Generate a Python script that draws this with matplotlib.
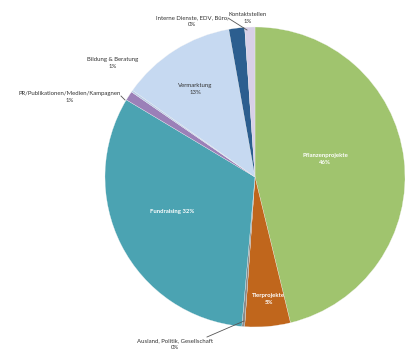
import matplotlib
matplotlib.use("Agg")
import matplotlib.pyplot as plt

categories = ["Pflanzenprojekte", "Tierprojekte", "Ausland, Politik, Gesellschaft",
              "Fundraising", "PR/Publikationen/Medien/Kampagnen", "Bildung & Beratung",
              "Vermarktung", "Interne Dienste, EDV, Büro,", "Kontaktstellen"]
values = [46.2, 4.9, 0.3, 32.2, 1.0, 0.2, 12.4, 1.7, 1.1]
pct_labels = ["46%", "5%", "0%", "32%", "1%", "1%", "13%", "0%", "1%"]
colors = ["#a0c46e", "#c0661c", "#8a8a8a", "#4ba3b2", "#9b80b8", "#b9cde6",
          "#c6d9f1", "#2c5e8f", "#d8d0e8"]

W, H = 405, 352
fig = plt.figure(figsize=(W / 100, H / 100), dpi=100)
ax = fig.add_axes([0, 0, 1, 1])
cx, cy, R = 255, 177, 150

def p2d(px, py):
    return (px - cx) / R, (cy - py) / R

ax.pie(values, colors=colors, startangle=90, counterclock=False, radius=1,
       wedgeprops=dict(linewidth=0.2, edgecolor="#f4f4f4"))
ax.set_xlim(-cx / R, (W - cx) / R)
ax.set_ylim(-(H - cy) / R, cy / R)
ax.set_aspect("equal")
ax.axis("off")

font = dict(family=["Lato", "DejaVu Sans"], fontsize=4.3, ha="center", va="center",
            linespacing=1.5)

# inside labels
ax.text(*p2d(325, 159), f"{categories[0]}\n{pct_labels[0]}", color="white", fontweight="bold", **font)
ax.text(*p2d(269, 299), f"{categories[1]}\n{pct_labels[1]}", color="white", fontweight="bold", **font)
ax.text(*p2d(172, 212), f"{categories[3]} {pct_labels[3]}", color="white", fontweight="bold", **font)
ax.text(*p2d(195, 89), f"{categories[6]}\n{pct_labels[6]}", color="#333333", **font)

# outside labels
ax.text(*p2d(175, 344), f"{categories[2]}\n{pct_labels[2]}", color="#333333", **font)
ax.plot(*zip(p2d(207, 337), p2d(244, 321)), color="#555555", lw=0.6)
ax.text(*p2d(70, 97), f"{categories[4]}\n{pct_labels[4]}", color="#333333", **font)
ax.plot(*zip(p2d(121, 96), p2d(125, 100)), color="#555555", lw=0.6)
ax.text(*p2d(113, 63), f"{categories[5]}\n{pct_labels[5]}", color="#333333", **font)
ax.text(*p2d(192, 21), f"{categories[7]}\n{pct_labels[7]}", color="#333333", **font)
ax.plot(*zip(p2d(228, 18), p2d(247, 30)), color="#555555", lw=0.6)
ax.text(*p2d(248, 18), f"{categories[8]}\n{pct_labels[8]}", color="#333333", **font)

fig.savefig("out.png", dpi=100)
